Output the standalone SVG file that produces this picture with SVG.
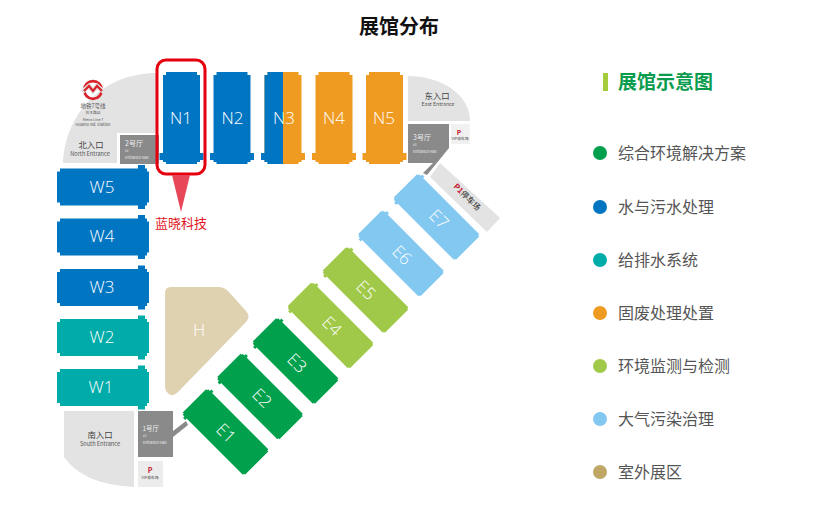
<svg xmlns="http://www.w3.org/2000/svg" width="839" height="511" viewBox="0 0 839 511">
<style>
text{font-family:"Noto Sans CJK SC","Noto Sans",sans-serif}
.hl{font-family:"Open Sans","Liberation Sans",sans-serif;font-weight:300;font-size:17px;fill:#fff;text-anchor:middle}
.lg{font-size:16px;fill:#555}
.g{fill:#e3e3e3}
.dk{fill:#8a8a8a}
.t{text-anchor:middle}
.wt{fill:#eee}
.gt{fill:#555}
.blue{fill:#0075c2}.teal{fill:#00aca9}.green{fill:#00a04d}.lime{fill:#a0c94a}.sky{fill:#82c8f0}.orange{fill:#ef9b22}
</style>
<defs>
<path id="hall" d="M-15.5,-46H15.5V-43H18.5V35H22V42H18.5V44H15.5V46H-15.5V44H-18.5V42H-22V35H-18.5V-43H-15.5Z"/>
<path id="ehall" d="M-16.500,-44H16.500V-42.500H18V37H20V40H18V42.500H16.500V44H-16.500V42.500H-18V40H-20V37H-18V-42.500H-16.500Z"/>
<clipPath id="n3l"><rect x="255" y="65" width="28" height="105"/></clipPath>
</defs>
<rect width="839" height="511" fill="#fff"/>
<text id="title" x="399" y="34" class="t" font-size="20" font-weight="700" fill="#111">展馆分布</text>

<g id="north-entrance">
<path class="g" d="M63,163C66,110 105,73 157,73V133H120V163Z"/>
<rect x="117" y="133" width="42" height="31" fill="#fff"/>
<rect class="dk" x="120" y="135" width="39" height="29"/>
<circle cx="93" cy="90" r="8.8" fill="none" stroke="#d8232a" stroke-width="2.8"/>
<path d="M82,92L89,86L93,91L97,86L104,92" fill="none" stroke="#e3e3e3" stroke-width="4.6"/>
<path d="M84,91L89,86L93,91L97,86L102,91" fill="none" stroke="#d8232a" stroke-width="2.2"/>
<text x="93" y="108" class="t gt" font-size="5.5">地铁7号线</text>
<text x="93" y="114" class="t gt" font-size="3.8">花木路站</text>
<text x="93" y="120.500" class="t gt" font-size="3.6">Metro Line 7</text>
<text x="93" y="125.500" class="t gt" font-size="4">Huamu Rd. Station</text>
<text x="91" y="147.500" class="t" font-size="8.400" fill="#444">北入口</text>
<text x="90" y="156" class="t gt" font-size="5.600">North Entrance</text>
<text x="125" y="146" class="wt" font-size="7">2号厅</text>
<text x="125" y="152" class="wt" font-size="3">#2</text>
<text x="125" y="159" class="wt" font-size="3.800">Entrance Hall</text>
</g>

<g id="east-entrance">
<path class="g" d="M408,76C442,76 470,95 470,121H408Z"/>
<path class="dk" d="M408,124H449V148L427,175L423,173L433,163H408Z"/>
<rect x="451" y="124" width="19" height="20" fill="#f1f1f1"/>
<text x="459" y="134.500" class="t" font-size="6.500" font-weight="700" fill="#c3142d">P</text>
<text x="460" y="139.500" class="t" font-size="3.800" fill="#444">VIP停车场</text>
<text x="437" y="98.500" class="t" font-size="8.400" fill="#444">东入口</text>
<text x="438" y="106" class="t gt" font-size="5.200">East Entrance</text>
<text x="413" y="140" class="wt" font-size="7">3号厅</text>
<text x="413" y="146" class="wt" font-size="3">#3</text>
<text x="413" y="152.500" class="wt" font-size="3.800">Entrance Hall</text>
</g>

<g id="south-entrance">
<path class="g" d="M64,411H134V487C100,485 78,476 64,457Z"/>
<path class="dk" d="M138,411H173V431L186,421L188,425L173,437V457H138Z"/>
<rect x="138" y="461" width="25" height="26" fill="#ececec"/>
<text x="150" y="473" class="t" font-size="7" font-weight="700" fill="#c3142d">P</text>
<text x="150" y="478.500" class="t" font-size="3.800" fill="#444">VIP停车场</text>
<text x="100" y="437.500" class="t" font-size="8.400" fill="#444">南入口</text>
<text x="100" y="446" class="t gt" font-size="5.600">South Entrance</text>
<text x="142.500" y="431" class="wt" font-size="6.500">1号厅</text>
<text x="143" y="437" class="wt" font-size="3">#1</text>
<text x="143" y="444" class="wt" font-size="3.800">Entrance Hall</text>
</g>

<g id="p1-parking">
<path class="g" d="M440,163L500,218L487,232L430,177Z"/>
<text transform="translate(465 199) rotate(45)" class="t" font-size="8" font-weight="500" fill="#444"><tspan fill="#c3142d" font-weight="700">P1</tspan>停车场</text>
</g>

<g id="N1"><use href="#hall" class="blue" x="181.500" y="118"/><text class="hl" x="181" y="124">N1</text></g>
<g id="N2"><use href="#hall" class="blue" x="232" y="118"/><text class="hl" x="232.500" y="124">N2</text></g>
<g id="N3"><use href="#hall" class="orange" x="283" y="118"/><g clip-path="url(#n3l)"><use href="#hall" class="blue" x="283" y="118"/></g><text class="hl" x="284" y="124">N3</text></g>
<g id="N4"><use href="#hall" class="orange" x="334" y="118"/><text class="hl" x="334" y="124">N4</text></g>
<g id="N5"><use href="#hall" class="orange" x="384.500" y="118"/><text class="hl" x="384" y="124">N5</text></g>

<g id="W5"><use href="#hall" class="blue" transform="translate(103 187) rotate(-90)"/><text class="hl" x="102" y="193">W5</text></g>
<g id="W4"><use href="#hall" class="blue" transform="translate(103 237) rotate(-90)"/><text class="hl" x="102" y="242">W4</text></g>
<g id="W3"><use href="#hall" class="blue" transform="translate(103 287.500) rotate(-90)"/><text class="hl" x="102" y="293">W3</text></g>
<g id="W2"><use href="#hall" class="teal" transform="translate(103 337.500) rotate(-90)"/><text class="hl" x="102" y="343">W2</text></g>
<g id="W1"><use href="#hall" class="teal" transform="translate(103 387.500) rotate(-90)"/><text class="hl" x="101" y="393">W1</text></g>

<g id="E1"><use href="#ehall" class="green" transform="translate(225.500 432) rotate(135)"/><text class="hl" transform="translate(226 433) rotate(45)" y="6">E1</text></g>
<g id="E2"><use href="#ehall" class="green" transform="translate(260 396.500) rotate(135)"/><text class="hl" transform="translate(262 398) rotate(45)" y="6">E2</text></g>
<g id="E3"><use href="#ehall" class="green" transform="translate(295.500 361) rotate(135)"/><text class="hl" transform="translate(297 363) rotate(45)" y="6">E3</text></g>
<g id="E4"><use href="#ehall" class="lime" transform="translate(330.500 325.500) rotate(135)"/><text class="hl" transform="translate(332 326) rotate(45)" y="6">E4</text></g>
<g id="E5"><use href="#ehall" class="lime" transform="translate(365.500 290) rotate(135)"/><text class="hl" transform="translate(366 290) rotate(45)" y="6">E5</text></g>
<g id="E6"><use href="#ehall" class="sky" transform="translate(401 253.500) rotate(135)"/><text class="hl" transform="translate(402 255) rotate(45)" y="6">E6</text></g>
<g id="E7"><use href="#ehall" class="sky" transform="translate(436.500 217) rotate(135)"/><text class="hl" transform="translate(439 219) rotate(45)" y="6">E7</text></g>

<g id="H"><path fill="#dfd2b0" d="M171,287H218Q224,287 228,291L246,311Q251,317 246,322L178,392Q172,398 168,393Q165,391 165,386V293Q165,287 171,287Z"/><text class="hl" x="199" y="336">H</text></g>

<g id="connectors">
<rect x="157" y="60" width="48" height="114" rx="9" fill="none" stroke="#e5000f" stroke-width="3"/>
<path d="M172,175H190L181,212Z" fill="#e8475a"/>
</g>
<text id="callout" x="181" y="228" class="t" font-size="13" fill="#e0141e">蓝晓科技</text>

<g id="legend">
<rect x="603" y="73" width="5" height="18" fill="#a4cc3c"/>
<text x="618" y="89" font-size="19" font-weight="700" fill="#0a9c4e">展馆示意图</text>
<circle class="green" cx="600" cy="153" r="7"/><text class="lg" x="618" y="159">综合环境解决方案</text>
<circle class="blue" cx="600" cy="207" r="7"/><text class="lg" x="618" y="213">水与污水处理</text>
<circle class="teal" cx="600" cy="260" r="7"/><text class="lg" x="618" y="266">给排水系统</text>
<circle class="orange" cx="600" cy="313" r="7"/><text class="lg" x="618" y="319">固废处理处置</text>
<circle class="lime" cx="600" cy="366" r="7"/><text class="lg" x="618" y="372">环境监测与检测</text>
<circle class="sky" cx="600" cy="419" r="7"/><text class="lg" x="618" y="425">大气污染治理</text>
<circle fill="#bfa767" cx="600" cy="472" r="7"/><text class="lg" x="618" y="478">室外展区</text>
</g>
</svg>
